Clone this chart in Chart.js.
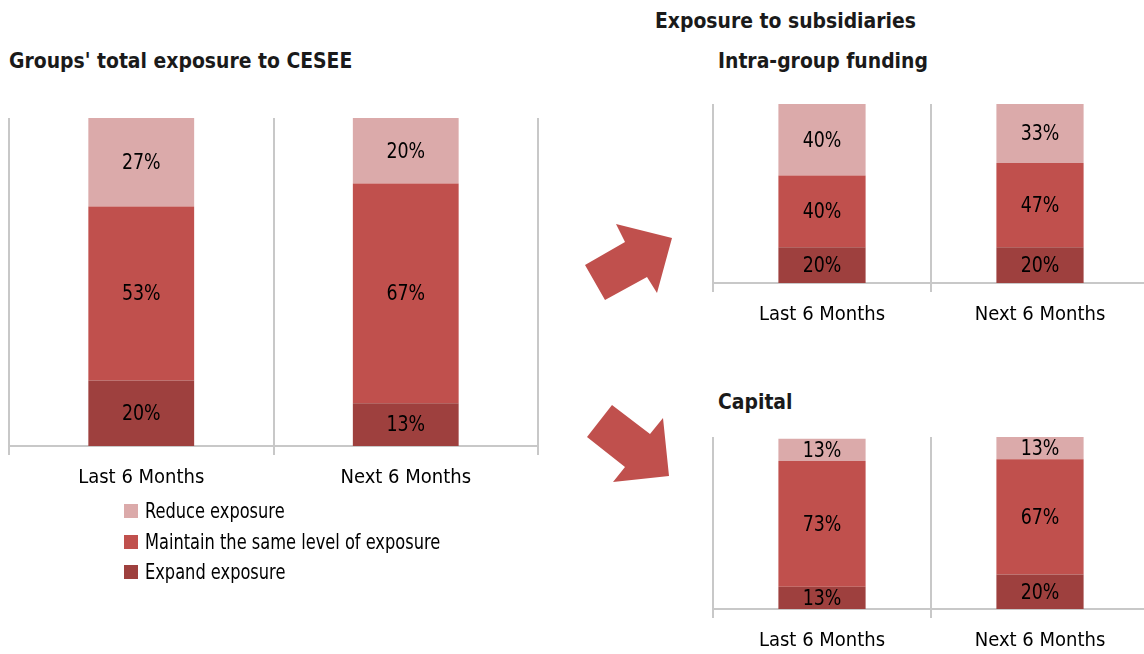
<!DOCTYPE html>
<html>
<head>
<meta charset="utf-8">
<script src="https://cdn.jsdelivr.net/npm/chart.js@4"></script>
<style>
  html, body { margin:0; padding:0; width:1144px; height:654px; overflow:hidden; background:#fff; }
  body { position:relative; font-family:"DejaVu Sans Condensed","DejaVu Sans",sans-serif; color:#000; }
  .box { position:absolute; }
  .title { position:absolute; font-family:"DejaVu Sans Condensed","DejaVu Sans",sans-serif; font-weight:bold; font-size:22px; color:#1a1a1a; white-space:nowrap; line-height:1; transform:scaleX(0.95); transform-origin:0 0; }
  #legend { position:absolute; left:124px; top:496px; font-size:22px; line-height:30.5px; }
  #legend .row { display:flex; align-items:center; white-space:nowrap; }
  #legend .sw { width:14px; height:14px; margin-right:7px; flex:none; }
  #legend .tx { display:inline-block; transform:scaleX(0.82); transform-origin:0 50%; }
  svg.arrows { position:absolute; left:0; top:0; }
</style>
</head>
<body>
<div class="title" style="left:655px; top:10px;">Exposure to subsidiaries</div>
<div class="title" style="left:9px; top:50px;">Groups' total exposure to CESEE</div>
<div class="title" style="left:718px; top:50px;">Intra-group funding</div>
<div class="title" style="left:718px; top:391px;">Capital</div>

<svg class="arrows" width="1144" height="654">
  <polygon points="585,265 625,242 616,224 672,238 657,293 647,277 605,300" fill="#C0504D"/>
  <polygon points="587,437 612,405 650,434 663,418 669,476 613,482 625,467" fill="#C0504D"/>
</svg>

<div class="box" style="left:0px; top:0px; width:560px; height:520px;"><canvas id="c1"></canvas></div>
<div class="box" style="left:700px; top:90px; width:460px; height:243px;"><canvas id="c2"></canvas></div>
<div class="box" style="left:700px; top:420px; width:460px; height:239px;"><canvas id="c3"></canvas></div>
<div id="legend"></div>

<script>
// ---- data ----
const categories = ["Last 6 Months", "Next 6 Months"];
const seriesNames = ["Expand exposure", "Maintain the same level of exposure", "Reduce exposure"];
const seriesColors = ["#9E403E", "#C0504D", "#DBAAAA"];

// Groups' total exposure to CESEE
const totalExpand   = [20, 13];
const totalMaintain = [53, 67];
const totalReduce   = [27, 20];

// Intra-group funding
const fundingExpand   = [20, 20];
const fundingMaintain = [40, 47];
const fundingReduce   = [40, 33];

// Capital
const capitalExpand   = [13, 20];
const capitalMaintain = [73, 67];
const capitalReduce   = [13, 13];

const FONT = '"DejaVu Sans Condensed","DejaVu Sans",sans-serif';

const valueLabels = {
  id: 'valueLabels',
  afterDatasetsDraw(chart) {
    const ctx = chart.ctx;
    chart.data.datasets.forEach((ds, di) => {
      const meta = chart.getDatasetMeta(di);
      meta.data.forEach((el, i) => {
        const v = ds.data[i];
        ctx.save();
        ctx.font = '22px ' + FONT;
        ctx.fillStyle = '#000';
        ctx.textAlign = 'center';
        ctx.textBaseline = 'middle';
        ctx.translate(el.x, (el.y + el.base) / 2 + 1);
        ctx.scale(0.88, 1);
        ctx.fillText(v + '%', 0, 0);
        ctx.restore();
      });
    });
  }
};

function makeChart(id, expand, maintain, reduce, pad, axisH) {
  const sets = [expand, maintain, reduce];
  return new Chart(document.getElementById(id), {
    type: 'bar',
    data: {
      labels: categories,
      datasets: sets.map((d, i) => ({
        label: seriesNames[i],
        data: d,
        backgroundColor: seriesColors[i],
        borderWidth: 0,
        categoryPercentage: 1,
        barPercentage: 0.4
      }))
    },
    options: {
      responsive: true,
      maintainAspectRatio: false,
      animation: false,
      layout: { padding: pad },
      plugins: { legend: { display: false }, tooltip: { enabled: false } },
      scales: {
        x: {
          stacked: true,
          grid: { display: true, offset: true, color: '#C8C8C8', lineWidth: 2, tickLength: 9, drawOnChartArea: true },
          border: { display: true, color: '#C8C8C8', width: 2 },
          ticks: { color: '#000', font: { family: FONT, size: 20 }, padding: 11, maxRotation: 0 },
          afterFit(s) { s.height = axisH; }
        },
        y: { stacked: true, display: false, min: 0, max: 100 }
      }
    },
    plugins: [valueLabels]
  });
}

makeChart('c1', totalExpand, totalMaintain, totalReduce, { left: 9, right: 22, top: 118, bottom: 0 }, 74);
makeChart('c2', fundingExpand, fundingMaintain, fundingReduce, { left: 13, right: 11, top: 14, bottom: 0 }, 50);
makeChart('c3', capitalExpand, capitalMaintain, capitalReduce, { left: 13, right: 11, top: 17, bottom: 0 }, 50);

// legend (top to bottom: reverse of stacking)
const legend = document.getElementById('legend');
[2, 1, 0].forEach(i => {
  const row = document.createElement('div');
  row.className = 'row';
  const sw = document.createElement('span');
  sw.className = 'sw';
  sw.style.background = seriesColors[i];
  const tx = document.createElement('span');
  tx.className = 'tx';
  tx.textContent = seriesNames[i];
  row.appendChild(sw); row.appendChild(tx);
  legend.appendChild(row);
});
</script>
</body>
</html>
